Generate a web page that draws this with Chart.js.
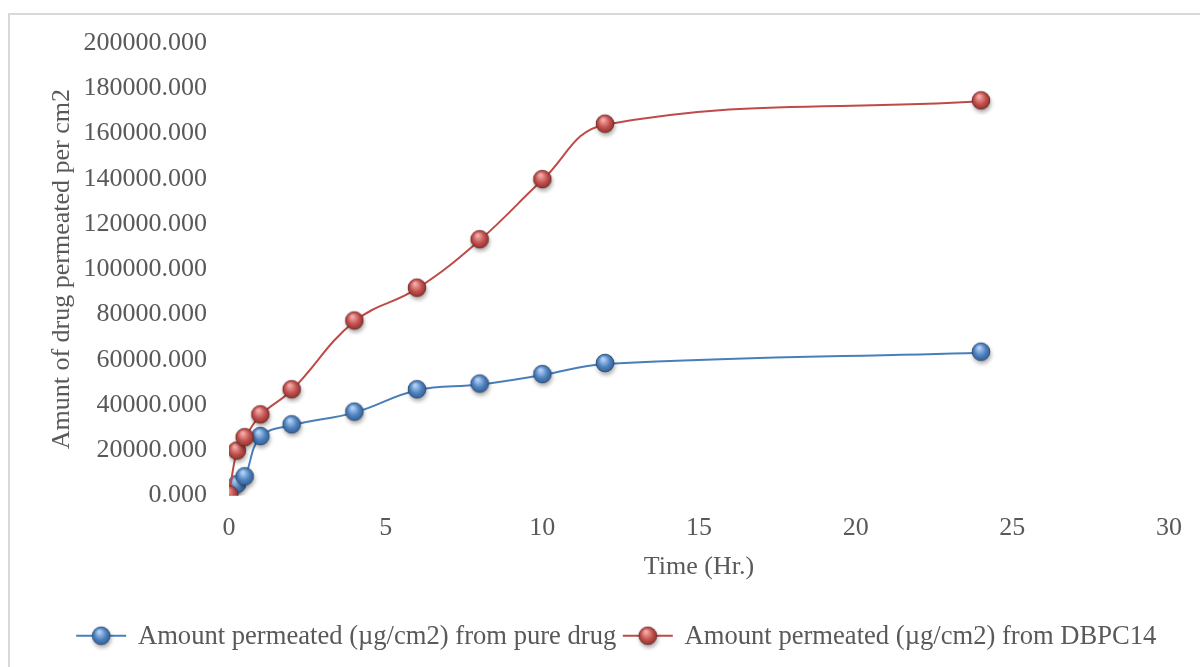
<!DOCTYPE html>
<html>
<head>
<meta charset="utf-8">
<script src="https://cdn.jsdelivr.net/npm/chart.js@4"></script>
<style>
  html, body { margin: 0; padding: 0; background: #fff; }
  #wrap { width: 1200px; height: 667px; position: relative; }
</style>
</head>
<body>
<div id="wrap"><canvas id="perm"></canvas></div>
<script>
// hours sampled
const hours = [0, 0.25, 0.5, 1, 2, 4, 6, 8, 10, 12, 24];
const pureDrug = [0, 4500, 8000, 25800, 31000, 36600, 46500, 49000, 53200, 58100, 63100];
const dbpc14 = [0, 19400, 25300, 35400, 46500, 76900, 91400, 112800, 139400, 163900, 174200];
const seriesNames = [
  'Amount permeated (µg/cm2) from pure drug',
  'Amount permeated (µg/cm2) from DBPC14'
];
const yTicks = [0, 20000, 40000, 60000, 80000, 100000, 120000, 140000, 160000, 180000, 200000];
const xTicks = [0, 5, 10, 15, 20, 25, 30];

const FONT = "'Liberation Serif', 'Times New Roman', serif";
const TXT = '#595959';

// glossy ball marker, Excel style
function sphere(base, light, dark, withLine, lineColor) {
  const c = document.createElement('canvas');
  const w = withLine ? 52 : 28, h = 28;
  c.width = w; c.height = h;
  const g = c.getContext('2d');
  const cx = w / 2, cy = h / 2 - 1, r = 9;
  if (withLine) {
    g.strokeStyle = lineColor;
    g.lineWidth = 2;
    g.beginPath(); g.moveTo(1, cy); g.lineTo(w - 1, cy); g.stroke();
  }
  g.save();
  g.shadowColor = 'rgba(0,0,0,0.35)';
  g.shadowBlur = 4;
  g.shadowOffsetY = 3;
  g.shadowOffsetX = 1;
  g.fillStyle = base;
  g.beginPath(); g.arc(cx, cy, r, 0, Math.PI * 2); g.fill();
  g.restore();
  const grad = g.createRadialGradient(cx - 2, cy - 4, 1, cx, cy, r + 1);
  grad.addColorStop(0, light);
  grad.addColorStop(0.55, base);
  grad.addColorStop(1, dark);
  g.fillStyle = grad;
  g.beginPath(); g.arc(cx, cy, r, 0, Math.PI * 2); g.fill();
  g.strokeStyle = 'rgba(0,0,0,0.3)';
  g.lineWidth = 1;
  g.stroke();
  return c;
}

const blueBall = sphere('#4f81bd', '#b0d0f8', '#2b5a92');
const redBall = sphere('#c0504d', '#f4aaa8', '#8c2b28');
const blueKey = sphere('#4f81bd', '#b0d0f8', '#2b5a92', true, '#4a7ebb');
const redKey = sphere('#c0504d', '#f4aaa8', '#8c2b28', true, '#be4b48');

// light outer border, and nudge the legend a little right
const frame = {
  id: 'frame',
  beforeDraw(chart) {
    const ctx = chart.ctx;
    ctx.save();
    ctx.strokeStyle = '#d9d9d9';
    ctx.lineWidth = 2;
    ctx.strokeRect(9, 14, 1250, 700);
    ctx.restore();
    if (chart.legend) {
      chart.legend.left = 54;
      chart.legend.right = 1180;
    }
  }
};

new Chart(document.getElementById('perm'), {
  type: 'line',
  data: {
    datasets: [
      {
        label: seriesNames[0],
        data: hours.map((t, i) => ({ x: t, y: pureDrug[i] })),
        borderColor: '#4a7ebb',
        borderWidth: 2,
        tension: 0.4,
        pointStyle: blueBall,
        order: 1
      },
      {
        label: seriesNames[1],
        data: hours.map((t, i) => ({ x: t, y: dbpc14[i] })),
        borderColor: '#be4b48',
        borderWidth: 2,
        tension: 0.4,
        pointStyle: redBall,
        order: 0
      }
    ]
  },
  options: {
    responsive: true,
    maintainAspectRatio: false,
    animation: false,
    layout: { padding: { left: 43, top: 43, right: 31, bottom: 7 } },
    plugins: {
      tooltip: { enabled: false },
      legend: {
        position: 'bottom',
        labels: {
          usePointStyle: true,
          pointStyleWidth: 47,
          boxHeight: 24,
          padding: 8,
          color: TXT,
          font: { family: FONT, size: 26.6 },
          generateLabels: (chart) => chart.data.datasets.map((ds, i) => ({
            text: ds.label,
            pointStyle: i === 0 ? blueKey : redKey,
            fontColor: TXT,
            datasetIndex: i,
            lineWidth: 0,
            strokeStyle: 'transparent',
            fillStyle: 'transparent'
          }))
        }
      }
    },
    scales: {
      x: {
        type: 'linear',
        min: 0,
        max: 30,
        afterBuildTicks: (s) => { s.ticks = xTicks.map(v => ({ value: v })); },
        afterFit: (s) => { s.height = 120; },
        grid: { display: false, drawTicks: false },
        border: { display: false },
        ticks: { padding: 17, color: TXT, font: { family: FONT, size: 26 } },
        title: {
          display: true,
          text: 'Time (Hr.)',
          color: TXT,
          padding: { top: 4, bottom: 33 },
          font: { family: FONT, size: 26 }
        }
      },
      y: {
        min: 0,
        max: 200000,
        afterBuildTicks: (s) => { s.ticks = yTicks.map(v => ({ value: v })); },
        afterFit: (s) => { s.width = 229 - 43; },
        grid: { display: false, drawTicks: false },
        border: { display: false },
        ticks: {
          padding: 22,
          color: TXT,
          font: { family: FONT, size: 26 },
          callback: (v) => v.toFixed(3)
        },
        title: {
          display: true,
          text: 'Amunt of drug permeated per cm2',
          color: TXT,
          padding: { top: 4, bottom: 4 },
          font: { family: FONT, size: 26 }
        }
      }
    }
  },
  plugins: [frame]
});
</script>
</body>
</html>
